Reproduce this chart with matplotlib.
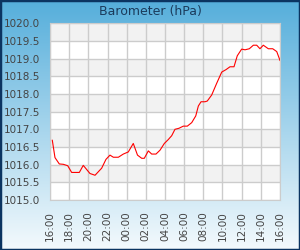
import numpy as np
import matplotlib
matplotlib.use("Agg")
import matplotlib.pyplot as plt
from matplotlib.patches import Rectangle

# hours since 16:00 and pressure readings (hPa)
hours = [0.24, 0.52, 0.97, 1.39, 1.85, 2.26, 3.06, 3.47, 4.17, 4.70,
         5.39, 5.84, 6.26, 6.61, 7.13, 7.65, 8.17, 8.69, 9.13, 9.57,
         9.84, 10.26, 10.61, 11.06, 11.48, 11.93, 12.34, 12.70, 13.04, 13.46,
         13.91, 14.33, 14.79, 15.21, 15.48, 15.76, 16.17, 16.41, 16.87, 17.39,
         17.92, 18.37, 18.78, 19.20, 19.54, 20.00, 20.35, 20.80, 21.22, 21.57,
         21.91, 22.26, 22.78, 23.24, 23.66, 24.00]
pressure = [1016.69, 1016.20, 1016.02, 1016.01, 1015.97, 1015.78, 1015.78, 1015.98, 1015.75, 1015.70,
            1015.90, 1016.15, 1016.27, 1016.21, 1016.21, 1016.30, 1016.36, 1016.60, 1016.27, 1016.18,
            1016.18, 1016.39, 1016.30, 1016.30, 1016.41, 1016.60, 1016.71, 1016.82, 1017.00, 1017.03,
            1017.09, 1017.09, 1017.19, 1017.38, 1017.66, 1017.78, 1017.78, 1017.80, 1017.97, 1018.30,
            1018.62, 1018.69, 1018.77, 1018.77, 1019.08, 1019.27, 1019.25, 1019.28, 1019.38, 1019.38,
            1019.28, 1019.38, 1019.28, 1019.28, 1019.20, 1018.95]

tick_hours = list(range(0, 25, 2))
tick_labels = ["16:00", "18:00", "20:00", "22:00", "00:00", "02:00", "04:00",
               "06:00", "08:00", "10:00", "12:00", "14:00", "16:00"]
y_ticks = [1015.0, 1015.5, 1016.0, 1016.5, 1017.0, 1017.5, 1018.0,
           1018.5, 1019.0, 1019.5, 1020.0]

fig = plt.figure(figsize=(3, 2.5), dpi=100)

# gradient background
bg = fig.add_axes([0, 0, 1, 1], zorder=0)
top = np.array([0x55, 0xae, 0xdb]) / 255
bottom = np.array([0xf4, 0xfa, 0xfd]) / 255
t = np.linspace(0, 1, 256)[:, None]
grad = top * (1 - t) + bottom * t
bg.imshow(grad[:, None, :].repeat(2, axis=1), aspect="auto", extent=[0, 1, 0, 1])
bg.set_axis_off()
fig.patches.append(Rectangle((0, 0), 1, 1, transform=fig.transFigure,
                             fill=False, edgecolor="#0b3461", linewidth=2.5, zorder=10))

ax = fig.add_axes([50 / 300, 50 / 250, 230 / 300, 176.7 / 250], zorder=1)
ax.set_facecolor("white")
for i, lo in enumerate(y_ticks[:-1]):
    if i % 2 == 1:
        ax.axhspan(lo, lo + 0.5, color="#f2f2f2", zorder=0, lw=0)

ax.plot(hours, pressure, color="red", linewidth=0.8, zorder=3)

ax.set_xlim(0, 24)
ax.set_ylim(1015, 1020)
ax.set_xticks(tick_hours)
ax.set_xticklabels(tick_labels, rotation=90)
ax.set_yticks(y_ticks)
ax.set_yticklabels([f"{v:.1f}" for v in y_ticks])
ax.grid(True, color="#cccccc", linewidth=1)
ax.set_axisbelow(True)
for s in ax.spines.values():
    s.set_color("#cccccc")
ax.tick_params(length=0, colors="#444444", labelsize=7.5)
ax.tick_params(axis="x", pad=8)
ax.tick_params(axis="y", pad=7)

fig.text(0.5, 0.952, "Barometer (hPa)", ha="center", va="center",
         fontsize=9, color="#1b3b5c")

fig.savefig("out.png", dpi=100)
